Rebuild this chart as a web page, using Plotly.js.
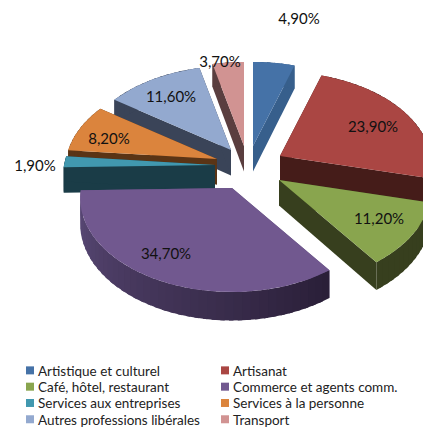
<!DOCTYPE html>
<html><head><meta charset="utf-8">
<script src="https://cdn.plot.ly/plotly-3.0.1.min.js"></script>
<style>html,body{margin:0;padding:0;background:#fff;overflow:hidden}#c{width:423px;height:427px}</style>
</head><body><div id="c"></div>
<script>
const categories = ["Artistique et culturel","Artisanat","Café, hôtel, restaurant","Commerce et agents comm.","Services aux entreprises","Services à la personne","Autres professions libérales","Transport"];
const shares = [4.9,23.9,11.2,34.7,1.9,8.2,11.6,3.7];
const shareLabels = ["4,90%","23,90%","11,20%","34,70%","1,90%","8,20%","11,60%","3,70%"];
const topColors = ["#4572A7","#AA4643","#89A54E","#71588F","#4198AF","#DB843D","#93A9CF","#D19392"];
const wallColors = ["#375F8C","#451C19","#373F1E","#5B4A78","#1A3C47","#5A3415","#3A4458","#5A3E3F"];
const wallColorFar = [null,null,null,"#2A1F38",null,null,null,null];
// exploded slice tips, in chart pixels
const tipX = [253,280,279,232,215,217,231,244];
const tipY = [146,156,180,188,165,159,150,146];
const labelX = [299,373,379,166,35,109,171,220];
const labelY = [20,128,220,255,167,140,98,63];
const drawOrder = [7,6,5,4,0,1,2,3];

const RX=151, RY=93, PERSP=0.106, DEPTH=25.5;
const total = shares.reduce((a,b)=>a+b,0);
let acc=0; const startDeg=[], endDeg=[];
shares.forEach(s=>{startDeg.push(acc/total*360); acc+=s; endDeg.push(acc/total*360);});

function rim(i,deg){
  const a=deg*Math.PI/180,u=Math.sin(a),v=Math.cos(a),s=1/(1+PERSP*v);
  return {x:tipX[i]+RX*u*s,y:tipY[i]-RY*v*s,d:DEPTH*s};
}
function hex(c){return [1,3,5].map(k=>parseInt(c.substr(k,2),16));}
function mix(a,b,t){const A=hex(a),B=hex(b);return "rgb("+A.map((v,k)=>Math.round(v+(B[k]-v)*t)).join(",")+")";}
function poly(xs,ys,color){
  return {type:"scatter",mode:"lines",x:xs.concat(xs[0]),y:ys.concat(ys[0]),fill:"toself",fillcolor:color,
    line:{color:color,width:0},showlegend:false,hoverinfo:"skip"};
}
const traces=[];
drawOrder.forEach(i=>{
  const a0=startDeg[i],a1=endDeg[i],tx=tipX[i],ty=tipY[i];
  [a0,a1].forEach(a=>{
    const p=rim(i,a);
    traces.push(poly([tx,p.x,p.x,tx],[ty,p.y,p.y+p.d,ty+DEPTH],wallColors[i]));
  });
  const n=Math.max(2,Math.ceil((a1-a0)/3));
  for(let k=0;k<n;k++){
    const b0=a0+(a1-a0)*k/n,b1=Math.min(a1,a0+(a1-a0)*(k+1)/n+1.5);
    const p=rim(i,b0),q=rim(i,b1);
    let col=wallColors[i];
    if(wallColorFar[i]) col=mix(wallColorFar[i],wallColors[i],k/(n-1));
    traces.push(poly([p.x,q.x,q.x,p.x],[p.y,q.y,q.y+q.d,p.y+p.d],col));
  }
  const xs=[tx],ys=[ty],m=Math.ceil((a1-a0)/2);
  for(let k=0;k<=m;k++){const p=rim(i,a0+(a1-a0)*k/m);xs.push(p.x);ys.push(p.y);}
  const t=poly(xs,ys,topColors[i]);
  t.name=categories[i];t.hoverinfo="name";
  traces.push(t);
});
traces.push({type:"scatter",mode:"text",x:labelX,y:labelY,text:shareLabels,textposition:"middle center",
  textfont:{family:"Lato, Carlito, sans-serif",size:15,color:"#111"},showlegend:false,hoverinfo:"skip"});
categories.forEach((c,i)=>traces.push({type:"scatter",mode:"markers",x:[null],y:[null],name:c,
  marker:{symbol:"square",size:8,color:topColors[i]},showlegend:true}));

const layout={width:423,height:427,margin:{l:0,r:0,t:0,b:0,autoexpand:false},paper_bgcolor:"#fff",plot_bgcolor:"#fff",
  xaxis:{visible:false,range:[0,423],fixedrange:true},
  yaxis:{visible:false,range:[427,0],fixedrange:true},
  legend:{orientation:"h",x:0,xanchor:"left",y:0.152,yanchor:"top",entrywidth:168,entrywidthmode:"pixels",
    font:{family:"Lato, Carlito, sans-serif",size:13.5,color:"#222"},bgcolor:"rgba(0,0,0,0)",traceorder:"normal"},
  showlegend:true};
const RE=/translate\(([-\d.]+),\s*([-\d.]+)\)/;
Plotly.newPlot("c",traces,layout,{displayModeBar:false,staticPlot:true}).then(gd=>{
  const lg=gd.querySelector(".legend");
  lg.querySelectorAll(".legendsymbols").forEach(s=>s.setAttribute("transform","translate(12,0)"));
  const items=[...lg.querySelectorAll(".traces")];
  const first=parseFloat(RE.exec(items[0].getAttribute("transform"))[2]);
  items.forEach((t,i)=>{
    const m=RE.exec(t.getAttribute("transform"));
    const row=Math.floor(i/2), col=i%2;
    t.setAttribute("transform","translate("+(parseFloat(m[1])-(col?18:0))+","+(first+16.3*row)+")");
  });
  lg.querySelectorAll("[clip-path]").forEach(e=>e.removeAttribute("clip-path"));
  const m=RE.exec(lg.getAttribute("transform"));
  if(m) lg.setAttribute("transform","translate("+(parseFloat(m[1])-2)+","+(parseFloat(m[2])-7)+")");
});
</script></body></html>
